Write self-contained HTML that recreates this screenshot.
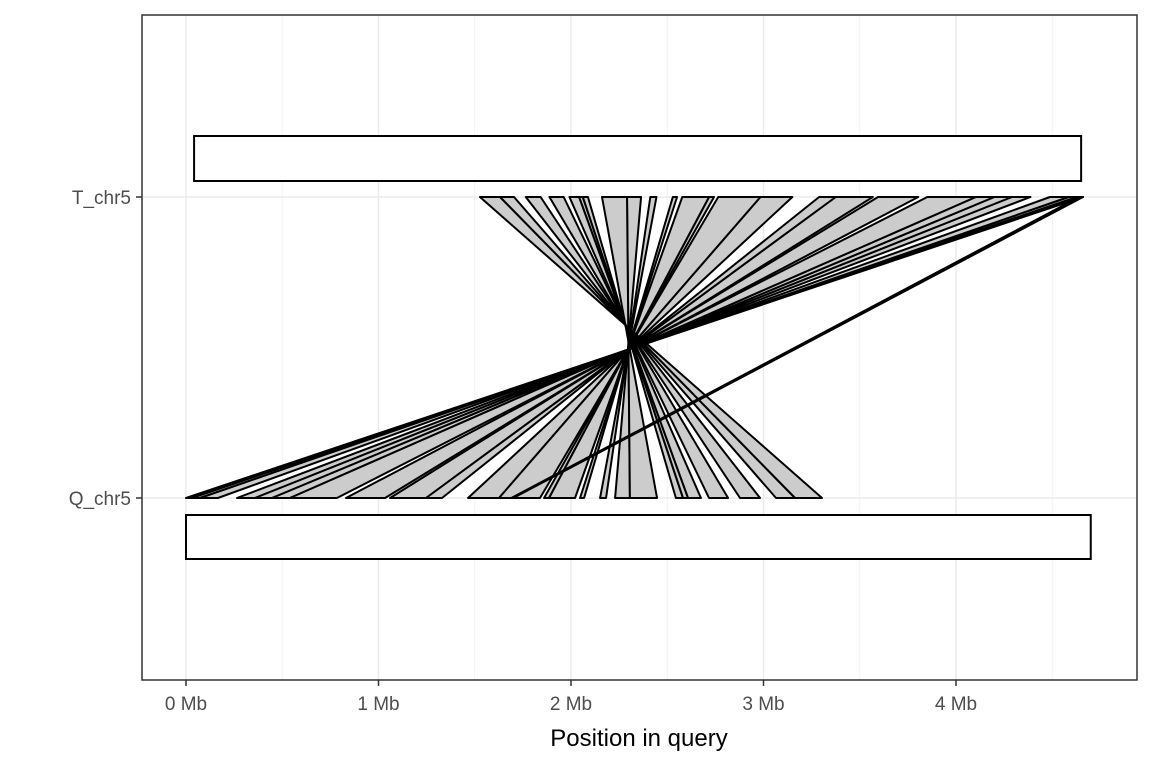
<!DOCTYPE html>
<html><head><meta charset="utf-8"><style>
body{margin:0;background:#fff;font-family:"Liberation Sans",sans-serif}
</style></head><body>
<svg id="c" width="1152" height="768" xmlns="http://www.w3.org/2000/svg"></svg>
<script>
const qStart=[0,0.031,0.073,0.265,0.358,0.447,0.540,0.831,1.060,1.247,1.465,1.626,1.860,1.886,2.047,2.151,2.229,2.306,2.545,2.582,2.608,2.717,2.878,3.065,3.164];
const qEnd=[0.031,0.073,0.166,0.358,0.447,0.540,0.784,1.034,1.247,1.330,1.626,1.839,1.886,2.021,2.068,2.182,2.306,2.447,2.582,2.608,2.675,2.816,2.982,3.164,3.304];
const tStart=[4.627,4.585,4.488,4.290,4.199,4.103,3.851,3.595,3.375,3.289,2.984,2.765,2.717,2.578,2.529,2.412,2.291,2.161,2.061,2.042,1.992,1.888,1.765,1.631,1.527];
const tEnd=[4.660,4.627,4.585,4.387,4.290,4.199,4.103,3.804,3.568,3.375,3.150,2.984,2.743,2.717,2.551,2.444,2.364,2.291,2.088,2.061,2.042,1.962,1.842,1.704,1.631];
const fwdQ=[1.69,1.70];
const fwdT=[4.64,4.66];
const xTicks=[0,1,2,3,4];
const xTickLabels=["0 Mb","1 Mb","2 Mb","3 Mb","4 Mb"];
const yCats=["T_chr5","Q_chr5"];
const chromT=[0.042,4.65];
const chromQ=[0,4.70];
const svg=document.getElementById('c');
const NS="http://www.w3.org/2000/svg";
const X=v=>186+v*192.5;
const Y={T_chr5:197,Q_chr5:498};
function mk(t,a,name){const e=document.createElementNS(NS,t);for(const k in a)e.setAttribute(k,a[k]);


svg.appendChild(e);return e;}
mk('rect',{x:142,y:15,width:995,height:665,fill:'#fff'},'panel-background');
for(let i=0;i<5;i++){mk('line',{x1:X(i+0.5),x2:X(i+0.5),y1:15,y2:680,stroke:'#f2f2f2','stroke-width':1},'minor-gridline');}
xTicks.forEach(v=>mk('line',{x1:X(v),x2:X(v),y1:15,y2:680,stroke:'#ebebeb','stroke-width':1.5},'x-gridline'));
yCats.forEach(c=>mk('line',{x1:142,x2:1137,y1:Y[c],y2:Y[c],stroke:'#ebebeb','stroke-width':1.5},'y-gridline'));
mk('rect',{x:X(chromT[0]),y:136,width:X(chromT[1])-X(chromT[0]),height:45,fill:'#fff',stroke:'#000','stroke-width':2},'target-chromosome');
mk('rect',{x:X(chromQ[0]),y:515,width:X(chromQ[1])-X(chromQ[0]),height:44,fill:'#fff',stroke:'#000','stroke-width':2},'query-chromosome');
for(let i=0;i<qStart.length;i++){
 const pts=[[X(qStart[i]),Y.Q_chr5],[X(qEnd[i]),Y.Q_chr5],[X(tStart[i]),Y.T_chr5],[X(tEnd[i]),Y.T_chr5]];
 mk('polygon',{points:pts.map(p=>p.join(',')).join(' '),fill:'#cccccc',stroke:'#000','stroke-width':2,'stroke-linejoin':'round'},'inverted-alignment');
}
{
 const pts=[[X(fwdQ[0]),Y.Q_chr5],[X(fwdQ[1]),Y.Q_chr5],[X(fwdT[1]),Y.T_chr5],[X(fwdT[0]),Y.T_chr5]];
 mk('polygon',{points:pts.map(p=>p.join(',')).join(' '),fill:'#cccccc',stroke:'#000','stroke-width':2,'stroke-linejoin':'round'},'forward-alignment');
}
mk('rect',{x:142,y:15,width:995,height:665,fill:'none',stroke:'#333','stroke-width':1.5},'panel-border');
xTicks.forEach((v,i)=>{mk('line',{x1:X(v),x2:X(v),y1:680,y2:686,stroke:'#333','stroke-width':1.5},'x-tick');
 const t=mk('text',{x:X(v),y:710,'text-anchor':'middle','font-size':19,fill:'#4d4d4d'},'x-tick-label');t.textContent=xTickLabels[i];});
yCats.forEach(c=>{mk('line',{x1:136,x2:142,y1:Y[c],y2:Y[c],stroke:'#333','stroke-width':1.5},'y-tick');
 const t=mk('text',{x:131,y:Y[c]+7,'text-anchor':'end','font-size':19,fill:'#4d4d4d'},'y-tick-label');t.textContent=c;});
const xt=mk('text',{x:639,y:746,'text-anchor':'middle','font-size':24,fill:'#000'},'x-axis-title');xt.textContent="Position in query";
</script>
</body></html>
